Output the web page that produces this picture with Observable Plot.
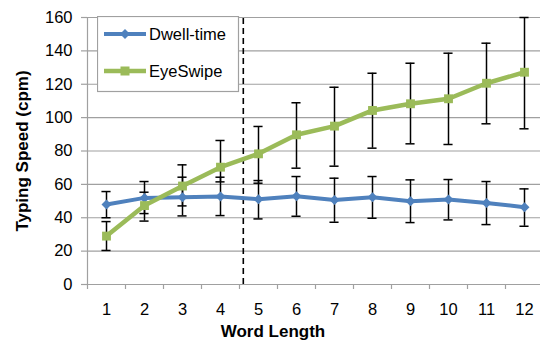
<!DOCTYPE html>
<html><head><meta charset="utf-8">
<script src="https://cdn.jsdelivr.net/npm/d3@7"></script>
<script src="https://cdn.jsdelivr.net/npm/@observablehq/plot@0.6"></script>
<style>
body{margin:0;background:#fff}
#c{position:relative;width:540px;height:345px;overflow:hidden;font-family:"Liberation Sans",Arial,sans-serif}
#legend{position:absolute;left:97px;top:16px}
</style>
</head><body><div id="c"></div>
<script>
const wordLength = [1, 2, 3, 4, 5, 6, 7, 8, 9, 10, 11, 12];
const dwellMean = [47.9, 51.9, 52.3, 52.7, 51.1, 52.9, 50.7, 52.3, 49.9, 50.9, 48.9, 46.3];
const dwellLow  = [40.0, 42.5, 41.1, 41.3, 39.3, 40.9, 37.3, 39.7, 37.1, 38.7, 35.9, 34.9];
const dwellHigh = [55.7, 61.7, 64.3, 64.3, 62.3, 64.7, 63.7, 64.7, 62.7, 62.9, 61.7, 57.3];
const eyeMean = [29.0, 47.3, 59.0, 70.3, 78.3, 89.7, 94.9, 104.3, 108.3, 111.3, 120.6, 127.2];
const eyeLow  = [20.4, 38.0, 47.1, 61.5, 60.7, 69.7, 70.9, 81.7, 84.3, 83.9, 96.3, 93.3];
const eyeHigh = [37.7, 55.3, 71.7, 86.3, 94.7, 108.9, 118.2, 126.6, 132.6, 138.6, 144.6, 160];
const yTicks = [0, 20, 40, 60, 80, 100, 120, 140, 160];
const xBoundaries = [0.5, 1.5, 2.5, 3.5, 4.5, 5.5, 6.5, 7.5, 8.5, 9.5, 10.5, 11.5, 12.5];
const splitX = 4.6;
const seriesNames = ["Dwell-time", "EyeSwipe"];
const colors = ["#4F81BD", "#9BBB59"];

const dwell = wordLength.map((x, i) => ({x, y: dwellMean[i], lo: dwellLow[i], hi: dwellHigh[i]}));
const eye = wordLength.map((x, i) => ({x, y: eyeMean[i], lo: eyeLow[i], hi: eyeHigh[i]}));
const all = dwell.concat(eye);
const grid = "#a0a0a0";
const capW = 0.12;

const chart = Plot.plot({
  width: 540, height: 345,
  marginLeft: 87, marginRight: 0, marginTop: 17, marginBottom: 61,
  style: {fontFamily: '"Liberation Sans", Arial, sans-serif', fontSize: "16px", color: "#000", background: "#fff"},
  x: {domain: [0.5, 12.5], range: [87, 543]},
  y: {domain: [0, 160]},
  marks: [
    Plot.ruleY(yTicks, {y: d => d, x1: 0.5, x2: 12.5, stroke: grid, strokeWidth: 1.2}),
    Plot.ruleX([0.5], {x: d => d, y1: 0, y2: 160, stroke: grid, strokeWidth: 1.2}),
    Plot.axisY(yTicks, {tickSize: 6, tickPadding: 9, stroke: grid, strokeWidth: 1.2, label: null, fontSize: 16.5, tickFormat: d => d}),
    Plot.axisX(xBoundaries, {tickSize: 5, tickFormat: () => "", stroke: grid, strokeWidth: 1.2, label: null}),
    Plot.axisX(wordLength, {tickSize: 0, tickPadding: 19, label: null, fontSize: 16.5, tickFormat: d => d}),
    Plot.ruleX([splitX], {x: d => d, y1: 0, y2: 160, stroke: "#000", strokeWidth: 1.6, strokeDasharray: "6,4"}),
    Plot.ruleX(all, {x: "x", y1: "lo", y2: "hi", stroke: "#000", strokeWidth: 1.5}),
    Plot.ruleY(all, {y: "lo", x1: d => d.x - capW, x2: d => d.x + capW, stroke: "#000", strokeWidth: 1.5}),
    Plot.ruleY(all, {y: "hi", x1: d => d.x - capW, x2: d => d.x + capW, stroke: "#000", strokeWidth: 1.5}),
    Plot.line(dwell, {x: "x", y: "y", stroke: colors[0], strokeWidth: 4}),
    Plot.dot(dwell, {x: "x", y: "y", symbol: "diamond2", r: 4.5, fill: colors[0], stroke: "none"}),
    Plot.line(eye, {x: "x", y: "y", stroke: colors[1], strokeWidth: 4.5}),
    Plot.dot(eye, {x: "x", y: "y", symbol: "square", r: 5, fill: colors[1], stroke: "none"}),
    Plot.text(["Typing Speed (cpm)"], {frameAnchor: "left", dx: -65, rotate: -90, textAnchor: "middle", lineAnchor: "middle", fontWeight: "bold", fontSize: 17, text: d => d}),
    Plot.text(["Word Length"], {frameAnchor: "bottom", dx: -41, dy: 47, textAnchor: "middle", lineAnchor: "middle", fontWeight: "bold", fontSize: 17, text: d => d})
  ]
});
const c = document.getElementById("c");
c.appendChild(chart);

// legend
const ns = "http://www.w3.org/2000/svg";
const lg = document.createElementNS(ns, "svg");
lg.setAttribute("id", "legend");
lg.setAttribute("width", 143); lg.setAttribute("height", 77);
lg.innerHTML = `<rect x="0.5" y="0.5" width="141" height="75" fill="#fff" stroke="${grid}" stroke-width="1.2"/>`;
seriesNames.forEach((name, i) => {
  const yy = 18 + i * 37;
  const g = document.createElementNS(ns, "g");
  const sym = i === 0
    ? `<path d="M28,${yy-5}L33,${yy}L28,${yy+5}L23,${yy}Z" fill="${colors[0]}"/>`
    : `<rect x="23.5" y="${yy-4.5}" width="9" height="9" fill="${colors[1]}"/>`;
  g.innerHTML = `<line x1="7" x2="49" y1="${yy}" y2="${yy}" stroke="${colors[i]}" stroke-width="${i ? 4.5 : 4}"/>${sym}
    <text x="52" y="${yy}" dy="0.36em" font-size="16.5" font-family='"Liberation Sans", Arial, sans-serif'>${name}</text>`;
  lg.appendChild(g);
});
c.appendChild(lg);
</script>
</body></html>
